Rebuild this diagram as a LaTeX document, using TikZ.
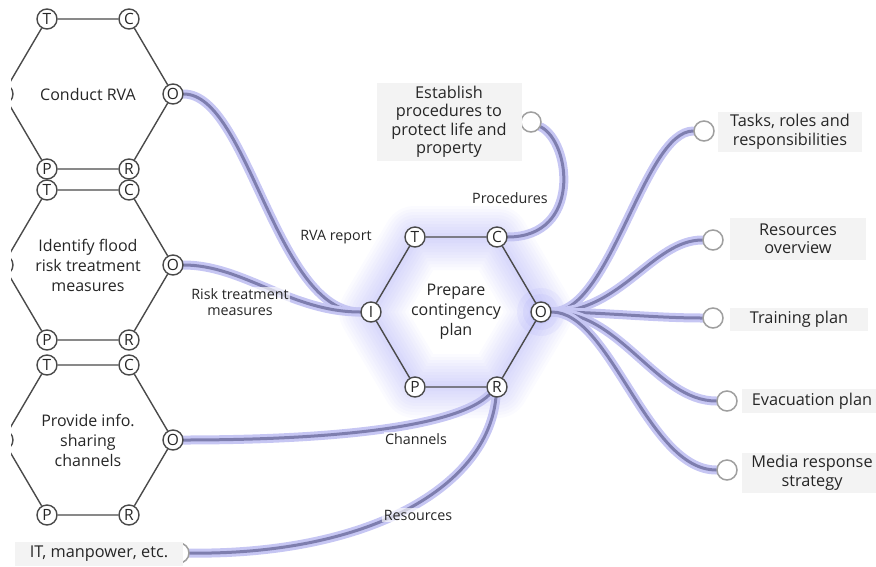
\documentclass[tikz,border=0pt]{standalone}
\usepackage{fontspec}
\setmainfont{Open Sans}
\usetikzlibrary{calc}

\definecolor{edge}{HTML}{4A4A4A}
\definecolor{lav}{HTML}{C6C6F3}
\definecolor{core}{HTML}{7E7EAE}
\definecolor{boxbg}{HTML}{F3F3F3}
\definecolor{glowc}{HTML}{7878F2}
\definecolor{ink}{HTML}{262626}

\pgfdeclarelayer{glowlayer}
\pgfdeclarelayer{flowlayer}
\pgfsetlayers{glowlayer,flowlayer,main}

\tikzset{
  port/.style={circle, draw=edge, line width=1.4pt, fill=white, minimum size=20pt,
    inner sep=0pt, text=ink, font=\fontsize{15.5}{15.5}\selectfont},
  endpt/.style={circle, draw=gray!75, line width=1.5pt, fill=white, minimum size=20pt, inner sep=0pt},
  hexedge/.style={draw=edge, line width=1.4pt},
  hextext/.style={align=center, text=ink, font=\fontsize{16}{20}\selectfont},
  flow/.style={draw=lav, line width=9pt, line cap=round, postaction={draw=core, line width=3pt}},
  flowlabel/.style={align=center, text=ink, font=\fontsize{14.3}{16.5}\selectfont,
    fill=white, fill opacity=0.65, text opacity=1, inner sep=1.5pt},
  outbox/.style={fill=boxbg, align=center, text=ink, inner sep=0pt,
    font=\fontsize{16.3}{18.5}\selectfont},
}

% one process cell: hexagon with its six ports
\newcommand{\hexcell}[4]{%
  \begin{scope}[shift={(#2,#3)}]
    \node[port] (#1T) at (-41,-75) {T};
    \node[port] (#1C) at (41,-75) {C};
    \node[port] (#1O) at (85,0) {O};
    \node[port] (#1R) at (41,75) {R};
    \node[port] (#1P) at (-41,75) {P};
    \node[port] (#1I) at (-85,0) {I};
    \node[hextext] (#1) at (0,0) {#4};
  \end{scope}
  \draw[hexedge] (#1T) -- (#1C) (#1C) -- (#1O) (#1O) -- (#1R)
    (#1R) -- (#1P) (#1P) -- (#1I) (#1I) -- (#1T);
}

\begin{document}
\begin{tikzpicture}[x=1pt,y=-1pt]
\useasboundingbox (0,0) rectangle (876,566);

% left-hand cells, cut at the page edge
\begin{scope}
  \clip (11,-5) rectangle (300,570);
  \hexcell{ha}{88}{94}{Conduct RVA}
  \hexcell{hb}{88}{265}{Identify flood\\risk treatment\\measures}
  \hexcell{hc}{88}{440}{Provide info.\\sharing\\channels}
\end{scope}

% central cell with its soft halo
\begin{pgfonlayer}{glowlayer}
  \begin{scope}[shift={(456,312)}]
    \foreach \w in {64,58,...,4}
      \draw[glowc, line width=\w pt, opacity=0.03, line join=round]
        (85,0) -- (41,74) -- (-41,74) -- (-85,0) -- (-41,-74) -- (41,-74) -- cycle;
    \foreach \r in {24,18,12}
      \fill[glowc, opacity=0.07] (85,0) circle (\r);
  \end{scope}
\end{pgfonlayer}
\hexcell{hm}{456}{312}{Prepare\\contingency\\plan}

% resource / output ends
\node[endpt] (procEnd) at (531,122) {};
\node[endpt] (taskEnd) at (704,131) {};
\node[endpt] (resEnd)  at (713,240) {};
\node[endpt] (trainEnd) at (713,318) {};
\node[endpt] (evacEnd) at (727,401) {};
\node[endpt] (mediaEnd) at (727,470) {};
\node[endpt] (itEnd) at (179,553) {};

% text boxes
\node[outbox, minimum width=145pt, minimum height=78pt] (proc) at (449,122)
  {Establish\\procedures to\\protect life and\\property};
\node[outbox, minimum width=144pt, minimum height=40pt] (task) at (790,132)
  {Tasks, roles and\\responsibilities};
\node[outbox, minimum width=136pt, minimum height=42pt] (res) at (798,239)
  {Resources\\overview};
\node[outbox, minimum width=138pt, minimum height=23pt] (train) at (799,319)
  {Training plan};
\node[outbox, minimum width=140pt, minimum height=24pt] (evac) at (812,401)
  {Evacuation plan};
\node[outbox, minimum width=140pt, minimum height=40pt] (media) at (812,473)
  {Media response\\strategy};
\node[outbox, minimum width=168pt, minimum height=24pt] (it) at (99,554)
  {IT, manpower, etc.};

% flows
\begin{pgfonlayer}{flowlayer}
  \draw[flow] (haO) .. controls +(75,0) and +(-95,0) .. (hmI);
  \draw[flow] (hbO) .. controls +(70,0) and +(-80,0) .. (hmI);
  \draw[flow] (hcO) .. controls +(160,0) and +(-40,40) .. (hmR);
  \draw[flow] (itEnd) .. controls +(190,2) and +(-10,100) .. (hmR);
  \draw[flow] (hmC) .. controls +(85,0) and +(40,20) .. (procEnd);
  \draw[flow] (hmO) .. controls +(70,0) and +(-60,0) .. (taskEnd);
  \draw[flow] (hmO) .. controls +(80,0) and +(-60,0) .. (resEnd);
  \draw[flow] (hmO) .. controls +(60,0) and +(-60,0) .. (trainEnd);
  \draw[flow] (hmO) .. controls +(80,0) and +(-70,0) .. (evacEnd);
  \draw[flow] (hmO) .. controls +(70,0) and +(-80,0) .. (mediaEnd);
\end{pgfonlayer}

% flow labels
\node[flowlabel] (lRva) at (336,237) {RVA report};
\node[flowlabel] (lRisk) at (240,302) {Risk treatment\\measures};
\node[flowlabel] (lProc) at (510,198) {Procedures};
\node[flowlabel] (lChan) at (416,439) {Channels};
\node[flowlabel] (lRes) at (418,515) {Resources};
\end{tikzpicture}
\end{document}
